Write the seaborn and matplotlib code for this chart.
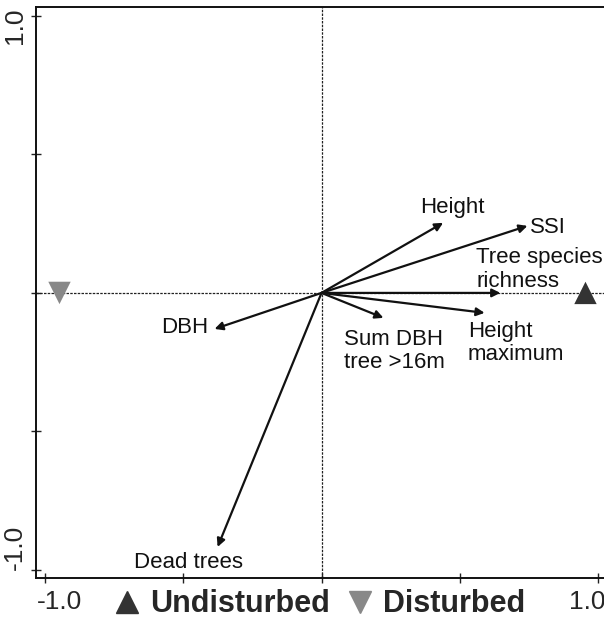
import matplotlib
matplotlib.use("Agg")
import matplotlib.pyplot as plt
import matplotlib.transforms as mtransforms
import seaborn as sns
import pandas as pd
from matplotlib.lines import Line2D

sns.set_style("white")
plt.rcParams["font.family"] = ["Liberation Sans", "DejaVu Sans"]

# Environmental vectors (arrow tips)
var_names = ["Height", "SSI", "Tree species\nrichness", "Height\nmaximum",
             "Sum DBH\ntree >16m", "DBH", "Dead trees"]
var_x = [0.44, 0.745, 0.647, 0.59, 0.224, -0.387, -0.376]
var_y = [0.253, 0.242, 0.0, -0.072, -0.09, -0.13, -0.917]

# Group centroids
groups = ["Undisturbed", "Disturbed"]
grp_x = [0.955, -0.948]
grp_y = [0.0, 0.0]
grp_colors = ["#333333", "#888888"]
grp_markers = ["^", "v"]

tick_vals = [-1.0, -0.5, 0.0, 0.5, 1.0]
tick_labels = ["-1.0", "", "", "", "1.0"]

W, H = 604, 618
fig = plt.figure(figsize=(W / 100, H / 100), dpi=100)
ax = fig.add_axes([36 / W, 1 - 578 / H, 1 - 36 / W, (578 - 7) / H])

df = pd.DataFrame({"x": grp_x, "y": grp_y, "group": groups})
sns.scatterplot(data=df, x="x", y="y", hue="group", style="group",
                palette=dict(zip(groups, grp_colors)),
                markers=dict(zip(groups, grp_markers)),
                s=260, edgecolor="none", ax=ax, legend=False, zorder=4)

ax.axhline(0, color="#222222", lw=0.9, ls=(0, (2, 1)), zorder=1)
ax.axvline(0, color="#222222", lw=0.9, ls=(0, (2, 1)), zorder=1)

for vx, vy in zip(var_x, var_y):
    ax.annotate("", xy=(vx, vy), xytext=(0, 0),
                arrowprops=dict(arrowstyle="-|>", color="#111111", lw=1.6,
                                mutation_scale=12, shrinkA=0, shrinkB=0),
                zorder=3)

# label placement
lab_pos = {
    "Height": (0.475, 0.31, "center", "center"),
    "SSI": (0.755, 0.237, "left", "center"),
    "Tree species\nrichness": (0.56, 0.085, "left", "center"),
    "Height\nmaximum": (0.53, -0.18, "left", "center"),
    "Sum DBH\ntree >16m": (0.08, -0.21, "left", "center"),
    "DBH": (-0.41, -0.125, "right", "center"),
    "Dead trees": (-0.48, -0.972, "center", "center"),
}
for name in var_names:
    lx, ly, ha, va = lab_pos[name]
    ax.text(lx, ly, name, ha=ha, va=va, fontsize=16, color="#111111",
            linespacing=1.15, zorder=5)

ax.set_xlim(-1.033, 1.022)
ax.set_ylim(-1.029, 1.032)
ax.set_xticks(tick_vals)
ax.set_xticklabels(tick_labels, fontsize=19)
ax.set_yticks(tick_vals)
ax.set_yticklabels(tick_labels, fontsize=19, rotation=90, va="center")
ax.tick_params(direction="inout", length=7, width=1.0, color="#222222",
               pad=3, bottom=True, left=True)
ax.tick_params(axis="x", pad=5)
ax.set_xlabel("")
ax.set_ylabel("")


def shift(lbl, dx, dy):
    lbl.set_transform(lbl.get_transform() +
                      mtransforms.ScaledTranslation(dx / 72, dy / 72,
                                                    fig.dpi_scale_trans))


xl = ax.get_xticklabels()
shift(xl[0], 10, 0)
shift(xl[-1], -8, 0)
yl = ax.get_yticklabels()
shift(yl[0], 0, 16)
shift(yl[-1], 0, -7)

for sp in ["left", "bottom", "top"]:
    ax.spines[sp].set_color("#111111")
    ax.spines[sp].set_linewidth(1.4)
ax.spines["right"].set_visible(False)

handles = [Line2D([], [], ls="none", marker=m, color=c, markersize=16)
           for m, c in zip(grp_markers, grp_colors)]
leg = fig.legend(handles, groups, loc="center", bbox_to_anchor=(0.53, 0.022),
                 ncol=2, frameon=False, handlelength=0.8, handletextpad=0.35,
                 columnspacing=0.6, prop={"weight": "bold", "size": 22})

fig.savefig("out.png", dpi=100)
